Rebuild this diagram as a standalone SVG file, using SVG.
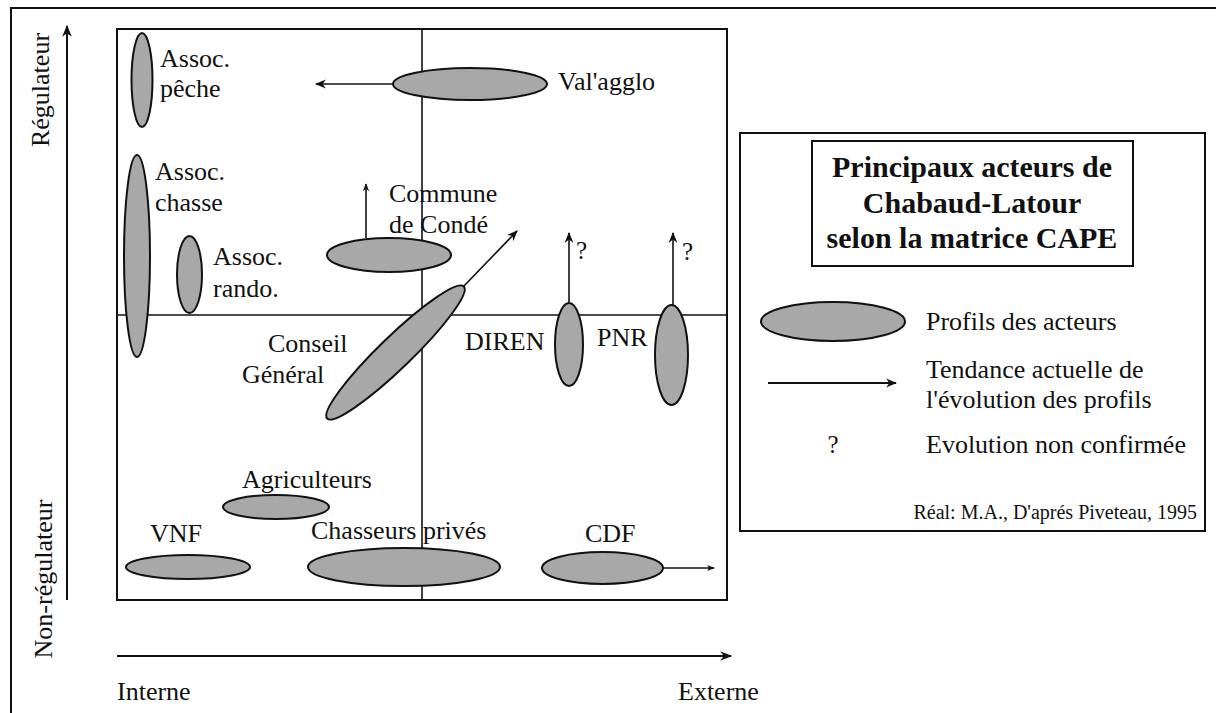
<svg xmlns="http://www.w3.org/2000/svg" width="1216" height="713" viewBox="0 0 1216 713">
<style>
text{font-family:"Liberation Serif","Times New Roman",serif;fill:#111;font-size:26px}
.prof{fill:#a8a8a8;stroke:#111;stroke-width:2}
.ln{stroke:#111;fill:none;stroke-width:2}
.thin{stroke:#111;fill:none;stroke-width:1.6}
.title{font-weight:bold;font-size:30px;text-anchor:middle}
.q{font-size:25px}
</style>
<defs>
<marker id="ah" viewBox="0 0 10 10" refX="9" refY="5" markerWidth="11" markerHeight="11" markerUnits="userSpaceOnUse" orient="auto">
<path d="M0,1 L10,5 L0,9 L3,5 Z" fill="#111"/>
</marker>
<marker id="ahs" viewBox="0 0 10 10" refX="9" refY="5" markerWidth="8" markerHeight="8" markerUnits="userSpaceOnUse" orient="auto">
<path d="M0,1 L10,5 L0,9 L3,5 Z" fill="#111"/>
</marker>
<marker id="ahb" viewBox="0 0 10 10" refX="9" refY="5" markerWidth="14" markerHeight="12" markerUnits="userSpaceOnUse" orient="auto">
<path d="M0,1 L10,5 L0,9 L3,5 Z" fill="#111"/>
</marker>
</defs>
<rect width="1216" height="713" fill="#fff"/>
<path class="ln" d="M11,713 V8 H1216"/>
<g id="frame">
<rect class="ln" x="117" y="29" width="610" height="571"/>
<line class="thin" x1="422" y1="29" x2="422" y2="600"/>
<line class="thin" x1="117" y1="315" x2="727" y2="315"/>
</g>
<g id="axes">
<line class="ln" x1="67" y1="600" x2="67" y2="26" marker-end="url(#ahb)"/>
<line class="ln" x1="117" y1="656" x2="731" y2="656" marker-end="url(#ahb)"/>
<text transform="translate(49,90) rotate(-90)" text-anchor="middle">Régulateur</text>
<text transform="translate(52,579) rotate(-90)" text-anchor="middle">Non-régulateur</text>
<text x="117" y="700">Interne</text>
<text x="678" y="700">Externe</text>
</g>
<g id="connectors">
<line class="thin" x1="393" y1="84" x2="316" y2="84" marker-end="url(#ah)"/>
<line class="thin" x1="366" y1="238" x2="366" y2="184" marker-end="url(#ahs)"/>
<line class="thin" x1="463" y1="287" x2="517" y2="231" marker-end="url(#ah)"/>
<line class="thin" x1="569" y1="303" x2="569" y2="233" marker-end="url(#ah)"/>
<line class="thin" x1="673" y1="305" x2="673" y2="233" marker-end="url(#ah)"/>
<line class="thin" x1="663" y1="568" x2="714" y2="568" marker-end="url(#ahs)"/>
</g>
<g id="assoc-peche">
<ellipse class="prof" cx="142" cy="80" rx="10.5" ry="47"/>
<text x="160" y="67">Assoc.</text>
<text x="160" y="97">pêche</text>
</g>
<g id="assoc-chasse">
<ellipse class="prof" cx="137" cy="256" rx="13" ry="101"/>
<text x="155" y="180">Assoc.</text>
<text x="155" y="211">chasse</text>
</g>
<g id="assoc-rando">
<ellipse class="prof" cx="189.5" cy="274.5" rx="12.5" ry="38.5"/>
<text x="213" y="265">Assoc.</text>
<text x="213" y="297">rando.</text>
</g>
<g id="valagglo">
<ellipse class="prof" cx="470" cy="84" rx="77" ry="16"/>
<text x="558" y="90">Val'agglo</text>
</g>
<g id="commune">
<ellipse class="prof" cx="389" cy="255" rx="62" ry="17"/>
<text x="389" y="202">Commune</text>
<text x="389" y="233">de Condé</text>
</g>
<g id="conseil">
<ellipse class="prof" cx="395.5" cy="352.5" rx="95" ry="16" transform="rotate(-44 395.5 352.5)"/>
<text x="268" y="352">Conseil</text>
<text x="242" y="383">Général</text>
</g>
<g id="diren">
<ellipse class="prof" cx="569" cy="344.5" rx="14" ry="41.5"/>
<text x="465" y="350">DIREN</text>
<text class="q" x="576" y="259">?</text>
</g>
<g id="pnr">
<ellipse class="prof" cx="671.5" cy="355" rx="16.5" ry="50"/>
<text x="597" y="346">PNR</text>
<text class="q" x="682" y="260">?</text>
</g>
<g id="agriculteurs">
<ellipse class="prof" cx="276" cy="507" rx="53" ry="12"/>
<text x="242" y="488">Agriculteurs</text>
</g>
<g id="vnf">
<ellipse class="prof" cx="188" cy="567" rx="62" ry="12"/>
<text x="150" y="542">VNF</text>
</g>
<g id="chasseurs">
<ellipse class="prof" cx="404" cy="567" rx="96" ry="19"/>
<text x="311" y="539">Chasseurs privés</text>
</g>
<g id="cdf">
<ellipse class="prof" cx="602.5" cy="568" rx="60.5" ry="16"/>
<text x="585" y="542">CDF</text>
</g>
<g id="legend">
<rect class="ln" x="740" y="133" width="465" height="398"/>
<rect class="ln" x="812" y="141" width="321" height="125"/>
<text class="title" x="972" y="177">Principaux acteurs de</text>
<text class="title" x="972" y="213">Chabaud-Latour</text>
<text class="title" x="972" y="248">selon la matrice CAPE</text>
<ellipse class="prof" cx="833" cy="321.5" rx="72" ry="19.5"/>
<text x="926" y="330">Profils des acteurs</text>
<line class="ln" x1="768" y1="383" x2="896" y2="383" marker-end="url(#ah)"/>
<text x="926" y="378">Tendance actuelle de</text>
<text x="926" y="408">l'évolution des profils</text>
<text class="q" x="833" y="453" text-anchor="middle">?</text>
<text x="926" y="453">Evolution non confirmée</text>
<text x="1197" y="519" text-anchor="end" style="font-size:20px">Réal: M.A., D'aprés Piveteau, 1995</text>
</g>
</svg>
